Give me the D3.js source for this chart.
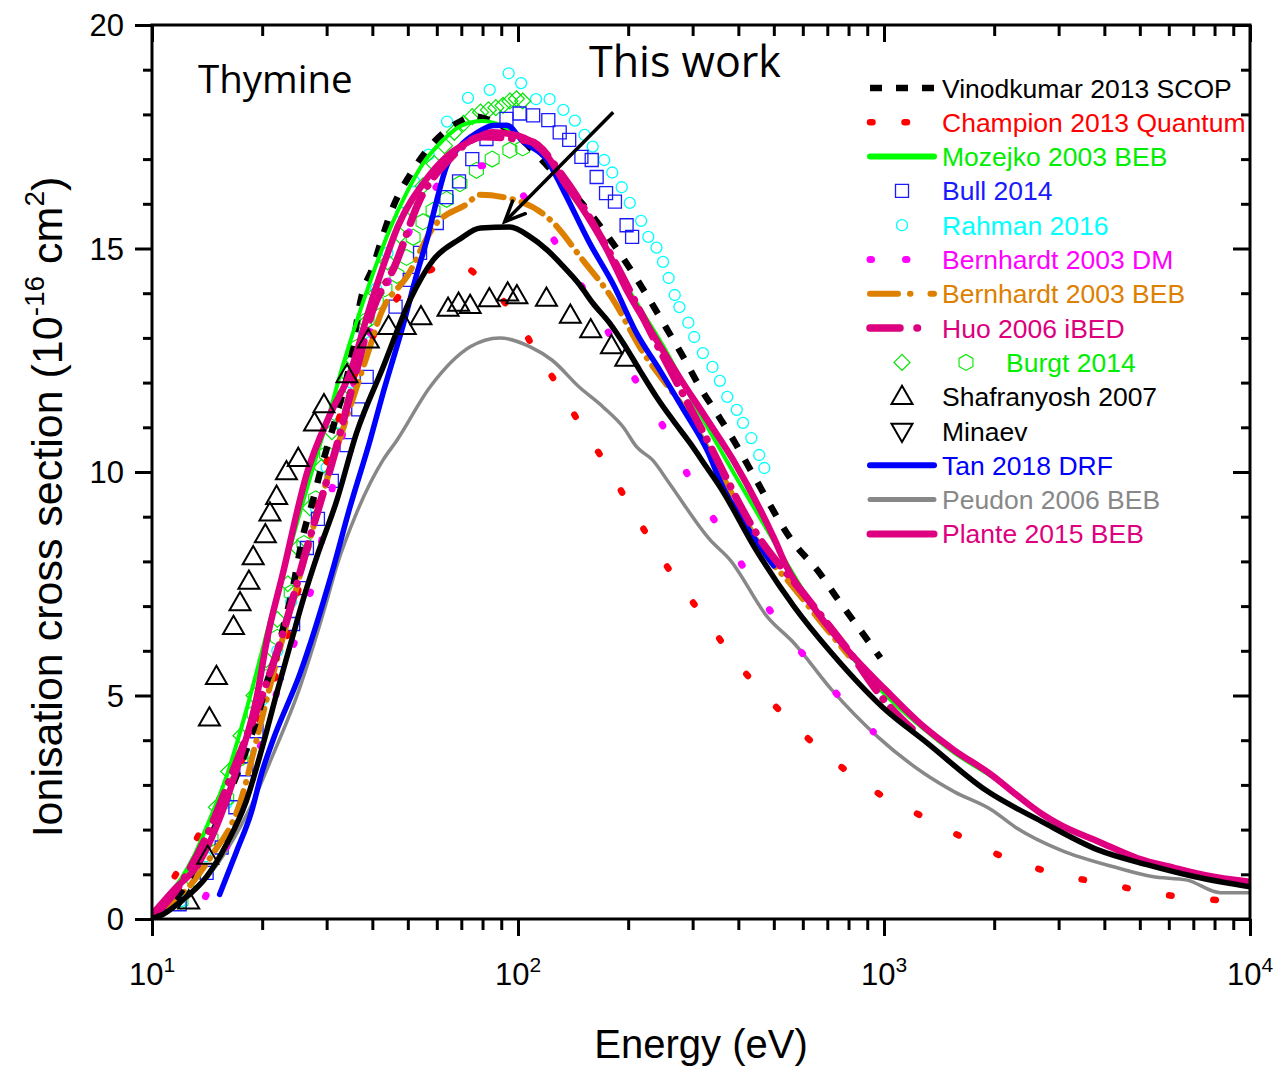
<!DOCTYPE html>
<html>
<head>
<meta charset="utf-8">
<script src="https://cdn.jsdelivr.net/npm/d3@7"></script>
<style>
  body { margin: 0; background: #fff; }
  svg { display: block; }
</style>
</head>
<body>
<svg id="chart" width="1277" height="1068"></svg>
<script>
// ---- Ionisation cross sections of thymine, [energy (eV), sigma (1e-16 cm^2)] ----
const thisWork = [[10,0.02],[10.5,0.07],[12,0.4],[14.1,0.95],[16,1.68],[18.1,2.64],[20.1,3.9],[22,5.1],[24,6.2],[26,7.2],[28.2,8.1],[32,9.37],[36.2,10.87],[42.8,12.35],[50.7,13.85],[58.6,14.74],[69,15.2],[79,15.46],[95,15.48],[108,15.26],[120,14.97],[133,14.6],[147,14.2],[160,13.78],[178,13.33],[194,12.88],[215,12.28],[239,11.68],[265,11.16],[295,10.65],[328,10.1],[357,9.66],[447,8.26],[568,6.99],[721,5.94],[988,4.75],[1316,3.93],[1890,2.89],[2700,2.18],[3860,1.54],[5260,1.21],[7030,0.95],[10000,0.72]];

const vinodkumar = [[10.3,0.05],[11,0.25],[12,0.6],[13,1.1],[14,1.6],[15.5,2.4],[17,3.2],[18.5,4.0],[19.7,4.7],[20.6,5.3],[21.9,5.9],[22.8,6.5],[24.1,7.3],[25.9,8.6],[27.6,9.4],[28.8,10.0],[32,11.3],[34.7,12.4],[37.3,13.9],[40.2,14.6],[42.4,15.2],[45.2,15.86],[51.7,16.76],[58.6,17.36],[68,17.8],[76,17.95],[85,17.85],[100,17.5],[125,16.7],[150,16.0],[175,15.3],[205,14.48],[227,13.9],[253,13.25],[283,12.57],[314,11.9],[352,11.27],[391,10.67],[437,9.97],[568,8.4],[658,7.8],[750,7.14],[855,6.5],[978,5.84]];

const champion = [[10,0.1],[11.3,0.83],[13,1.68],[14.8,2.5],[17.2,3.39],[20,4.6],[23,6.1],[26.5,8.2],[30.6,10.5],[34,11.7],[40,13.0],[48,14.0],[57,14.5],[68,14.65],[79,14.34],[99.6,13.4],[110,12.8],[128,11.95],[147,11.1],[171,10.27],[198,9.37],[250,8.0],[331,6.62],[397,5.73],[492,4.86],[688,3.71],[785,3.33],[1010,2.71],[1285,2.28],[1590,1.88],[1970,1.5],[3180,0.95],[3970,0.8],[4930,0.65],[6850,0.47],[7950,0.43],[9850,0.36]];

const mozejko = [[10,0.1],[11,0.5],[12,0.9],[13,1.4],[14,2.0],[16,3.2],[18,4.6],[20,6.0],[22,7.3],[24,8.4],[26,9.4],[28,10.3],[30,11.1],[33,12.3],[36,13.3],[40,14.4],[45,15.5],[50,16.3],[55,16.9],[62,17.4],[70,17.75],[80,17.85],[90,17.75],[100,17.55],[115,17.15],[130,16.55],[150,15.85],[175,14.95],[200,14.1],[250,12.8],[300,11.6],[400,9.8],[500,8.45],[640,7.0],[800,5.95],[1000,5.05],[1285,4.25],[1553,3.72],[2000,3.15],[2400,2.65],[2900,2.2],[3860,1.75],[5000,1.35],[7000,1.0],[10000,0.78]];

const bull2014 = [[11.9,0.33],[14.1,1.03],[15.5,1.6],[16.9,2.5],[18.1,3.35],[19.3,4.2],[21.9,5.5],[24.3,6.6],[25.6,7.4],[26.5,8.3],[28.4,8.95],[31,9.8],[34,10.6],[36.6,11.4],[38.6,12.13],[46.3,13.7],[50.6,14.3],[54,14.9],[60,15.57],[63.7,16.15],[69,16.5],[75,17.0],[82,17.45],[93,17.9],[101,18.02],[110,17.98],[121,17.87],[130,17.6],[138,17.43],[149,17.05],[159,16.98],[164,16.6],[174,16.24],[184,16.05],[198,15.52],[205,15.26]];

const rahman2016 = [[12,0.4],[14,1.4],[16,2.6],[18,3.7],[20,4.9],[22,6.0],[24,7.1],[26,8.2],[28,9.2],[30,10.1],[32.5,11.1],[35,12.0],[38,13.1],[41,14.1],[44,14.9],[48,15.8],[52,16.5],[57,17.1],[64,17.84],[73,18.37],[83.7,18.55],[94.3,18.92],[102,18.7],[112,18.34],[122,18.34],[133,18.1],[143,17.86],[152,17.54],[160,17.28],[172,16.98],[181,16.7],[192,16.37],[202,16.02],[217,15.62],[227,15.26],[239,15.02],[249,14.7],[258,14.34],[268,13.96],[276,13.69],[292,13.34],[303,13.02],[320,12.66],[340,12.35],[356,12.04],[373,11.68],[396,11.39],[412,11.1],[434,10.76],[456,10.38],[471,10.09]];

const bernhardtDM = [[14,0.5],[17,2.2],[20,4.0],[23,5.6],[26.5,7.0],[30,9.0],[34.7,11.6],[40.2,13.3],[48,15.0],[56.7,16.1],[68,16.8],[80,16.85],[90.6,16.64],[111,15.86],[134,14.8],[162,13.66],[202,12.28],[255,10.87],[303,9.66],[380,8.37],[470,7.1],[604,5.9],[740,5.05],[935,4.19]];

const bernhardtBEB = [[10.5,0.1],[11.6,0.4],[14.5,1.4],[17.4,2.6],[19.3,4.0],[21,5.2],[25.4,7.7],[30,9.8],[34,11.2],[39.4,12.8],[42,13.5],[50,14.4],[59,15.5],[72.6,16.0],[78.5,16.2],[91,16.15],[124,15.6],[150,14.75],[182,13.85],[215,12.8],[296,11.2],[357,10.0],[480,8.1],[555,7.5],[702,6.46],[800,5.9]];

const huo2006 = [[10.5,0.2],[12,0.8],[14,1.8],[17,3.5],[20,5.0],[22.8,6.4],[26.5,8.3],[32,10.6],[36.4,12.35],[40,13.6],[46,14.6],[54,16.1],[65,17.0],[80,17.5],[108,17.4],[133,16.6],[170,15.2],[244,12.73],[320,10.9],[450,8.6],[600,7.3],[800,6.0],[1000,4.9],[1250,4.1]];

const burgtDiamond = [[12,0.5],[13,1.1],[14,1.8],[15,2.5],[16.2,3.3],[17.5,4.1],[19,5.0],[20.5,5.8],[22,6.7],[23.5,7.5],[25,8.3],[27,9.2],[29,10.1],[31,10.9],[33,11.7],[35.5,12.5],[38,13.3],[41,14.0],[44,14.7],[47.5,15.3],[51,15.9],[55,16.4],[59,16.9],[63,17.3],[67,17.6],[71,17.8],[75,17.95],[79,18.05],[83,18.1],[87,18.15],[91,18.2],[95,18.3],[99,18.35],[103,18.3]];

const burgtHexagon = [[12,0.4],[13,0.9],[14.5,1.8],[16,2.7],[17.5,3.6],[19,4.6],[20.5,5.4],[22,6.3],[24,7.3],[26,8.4],[28,9.4],[30,10.4],[32,11.3],[34.5,12.2],[36.5,12.8],[38.7,13.4],[41,13.8],[43.3,14.1],[46.7,14.4],[49.6,14.8],[51.7,15.25],[55,15.6],[58.6,15.85],[63.8,16.1],[69.4,16.45],[77,16.75],[85,17.0],[95,17.2],[103,17.25]];

const shafranyosh = [[12.6,0.4],[14.2,1.4],[14.35,4.49],[15,5.42],[16.7,6.54],[17.4,7.07],[18.4,7.55],[18.9,8.1],[20.4,8.59],[21,9.08],[21.9,9.45],[23.3,10.0],[25.1,10.3],[27.8,11.09],[29.5,11.5],[34.1,12.17],[39,12.95],[44.3,13.25],[49.2,13.25],[54.3,13.47],[64.4,13.66],[68.8,13.77],[74,13.72],[83.5,13.87],[93.7,14.0],[99.3,13.94],[119.6,13.88],[139,13.5],[158,13.18],[180,12.82],[197,12.54]];

const minaev = [];

const tan2018 = [[15.3,0.55],[17,1.5],[18.7,2.4],[20,3.3],[21.4,4.0],[25.4,5.5],[31,7.74],[34.7,9.2],[39.4,10.7],[42.9,11.8],[48.6,13.3],[53,14.45],[56.4,15.2],[60,16.08],[63.7,16.83],[69.3,17.28],[77,17.58],[85.5,17.75],[93,17.76],[103,17.4],[120,16.98],[133,16.3],[157,15.12],[182,14.2],[211,13.1],[244,12.28],[283,11.4],[328,10.5],[363,9.66],[420,8.8],[480,8.1],[500,7.9]];

const peudon2006 = [[10,0.02],[12.2,0.4],[15,1.2],[18.5,2.47],[21.4,3.67],[25.4,5.2],[27,5.86],[30,7.1],[31.9,7.87],[36.2,9.08],[42.8,10.27],[46.6,10.7],[57.5,11.9],[74,12.8],[89,13.0],[108,12.8],[124,12.5],[147,11.9],[171,11.45],[194,11.0],[211,10.56],[233,10.27],[259,9.75],[335,8.48],[380,8.03],[480,6.76],[568,6.17],[721,5.12],[960,4.08],[1285,3.26],[1553,2.85],[1970,2.44],[2280,2.06],[3040,1.54],[4360,1.14],[5400,0.95],[6740,0.87],[8290,0.59],[10000,0.59]];

const plante2015 = [[10,0.1],[11.4,0.63],[13.5,1.28],[15.3,2.24],[17.4,3.59],[19.3,4.94],[20.6,6.24],[22.8,7.74],[26.5,9.97],[30.7,11.3],[34.7,12.2],[39.4,13.7],[42.8,14.6],[47,15.5],[55.6,16.5],[63.7,17.05],[74,17.4],[85,17.6],[97,17.55],[110,17.36],[122,17.0],[133,16.5],[147,16.0],[175,14.97],[198,14.07],[233,13.1],[277,12.1],[327,11.2],[387,10.27],[503,8.48],[542,7.88],[640,6.99],[794,6.02],[1012,5.12],[1285,4.3],[1553,3.78],[1970,3.22],[2300,2.78],[2700,2.35],[3040,2.1],[3860,1.73],[4930,1.36],[6240,1.14],[7540,0.98],[10000,0.83]];

// arrow pointing at this work's curve: [energy, sigma] of tail and tip
const arrowTail = [182, 18.05];
const arrowTip = [92, 15.6];

// axis ticks
const xMajorTicks = [10, 100, 1000, 10000];
const xMajorExponents = ["1", "2", "3", "4"];
const xMinorTicks = [1, 10, 100].flatMap(d => [2,3,4,5,6,7,8,9].map(k => d * k * 10));
const yMajorTicks = [0, 5, 10, 15, 20];
const yMinorTicks = d3.range(0, 21).filter(v => v % 5 !== 0);

// ---- drawing ----
const svg = d3.select("#chart");
const L = 152, R = 1250, T = 25, B = 919;
const x = d3.scaleLog().domain([10, 10000]).range([L, R]);
const y = d3.scaleLinear().domain([0, 20]).range([B, T]);
const AXIS_FONT = "'Liberation Sans', Arial, sans-serif";
const TITLE_FONT = "'Open Sans', 'Noto Sans', sans-serif";

svg.append("rect").attr("width", 1277).attr("height", 1068).attr("fill", "#fff");
svg.append("defs").append("clipPath").attr("id", "plotClip")
  .append("rect").attr("x", L).attr("y", T).attr("width", R - L).attr("height", B - T);

const plot = svg.append("g").attr("clip-path", "url(#plotClip)");
const line = d3.line().x(d => x(d[0])).y(d => y(d[1])).curve(d3.curveMonotoneX);

// marker shapes
const shapes = {
  square: s => `M${-s/2},${-s/2}h${s}v${s}h${-s}Z`,
  circle: s => `M${s/2},0A${s/2},${s/2},0,1,1,${-s/2},0A${s/2},${s/2},0,1,1,${s/2},0Z`,
  diamond: s => `M0,${-s/2}L${s/2},0L0,${s/2}L${-s/2},0Z`,
  hexagon: s => d3.range(6).map(i => {
      const a = Math.PI / 3 * i - Math.PI / 2;
      return (i ? "L" : "M") + (s/2 * Math.cos(a)).toFixed(2) + "," + (s/2 * Math.sin(a)).toFixed(2);
    }).join("") + "Z",
  triUp: s => { const h = s * 0.87; return `M0,${-h*0.6}L${s/2},${h*0.4}L${-s/2},${h*0.4}Z`; },
  triDown: s => { const h = s * 0.87; return `M0,${h*0.6}L${s/2},${-h*0.4}L${-s/2},${-h*0.4}Z`; }
};

const markerSeries = {
  rahman: { data: rahman2016, shape: "circle", size: 11, color: "#00ffff", sw: 1.3 },
  burgtD: { data: burgtDiamond, shape: "diamond", size: 16, color: "#00e600", sw: 1.2 },
  burgtH: { data: burgtHexagon, shape: "hexagon", size: 16, color: "#00e600", sw: 1.1 },
  bull: { data: bull2014, shape: "square", size: 13, color: "#1a1aff", sw: 1.3 },
  shaf: { data: shafranyosh, shape: "triUp", size: 21, color: "#000", sw: 2 },
  minaev: { data: minaev, shape: "triDown", size: 21, color: "#000", sw: 2 }
};

const lineSeries = {
  mozejko: { data: mozejko, color: "#00ff00", width: 4, dash: null, cap: "round" },
  vinod: { data: vinodkumar, color: "#000", width: 6.5, dash: "12,14", cap: "butt" },
  champion: { data: champion, color: "#ff0000", width: 6.5, dash: "2.5,42", cap: "round" },
  dm: { data: bernhardtDM, color: "#ff00ff", width: 7, dash: "1.5,52", cap: "round" },
  beb: { data: bernhardtBEB, color: "#dd8000", width: 6, dash: "24,9,0.5,9", cap: "round" },
  huo: { data: huo2006, color: "#dc007e", width: 7.5, dash: "30,11,0.5,11", cap: "round" },
  peudon: { data: peudon2006, color: "#888888", width: 3.5, dash: null, cap: "round" },
  tan: { data: tan2018, color: "#0000ff", width: 5.5, dash: null, cap: "round" },
  plante: { data: plante2015, color: "#de0080", width: 6.5, dash: null, cap: "round" },
  thisWork: { data: thisWork, color: "#000", width: 5.5, dash: null, cap: "round" }
};

function drawMarkers(g, m, pts) {
  g.selectAll(null).data(pts).join("path")
    .attr("transform", d => `translate(${x(d[0])},${y(d[1])})`)
    .attr("d", shapes[m.shape](m.size))
    .attr("fill", "none").attr("stroke", m.color).attr("stroke-width", m.sw);
}
function drawLine(g, s) {
  g.append("path").datum(s.data).attr("d", line)
    .attr("fill", "none").attr("stroke", s.color).attr("stroke-width", s.width)
    .attr("stroke-linecap", s.cap).attr("stroke-linejoin", "round")
    .attr("stroke-dasharray", s.dash);
}

drawMarkers(plot, markerSeries.rahman, rahman2016);
drawMarkers(plot, markerSeries.burgtH, burgtHexagon);
drawMarkers(plot, markerSeries.burgtD, burgtDiamond);
drawMarkers(plot, markerSeries.bull, bull2014);
["peudon", "champion", "dm", "beb", "vinod", "mozejko", "tan", "huo", "plante", "thisWork"]
  .forEach(k => drawLine(plot, lineSeries[k]));
drawMarkers(plot, markerSeries.shaf, shafranyosh);
drawMarkers(plot, markerSeries.minaev, minaev);

// arrow
{
  const x1 = x(arrowTail[0]), y1 = y(arrowTail[1]), x2 = x(arrowTip[0]), y2 = y(arrowTip[1]);
  const ang = Math.atan2(y2 - y1, x2 - x1);
  const len = 22, spread = 0.42;
  const a1 = [x2 - len * Math.cos(ang - spread), y2 - len * Math.sin(ang - spread)];
  const a2 = [x2 - len * Math.cos(ang + spread), y2 - len * Math.sin(ang + spread)];
  svg.append("path").attr("d", `M${x1},${y1}L${x2},${y2}`)
    .attr("stroke", "#000").attr("stroke-width", 3.5).attr("fill", "none");
  svg.append("path").attr("d", `M${a1}L${x2},${y2}L${a2}`)
    .attr("stroke", "#000").attr("stroke-width", 3.5).attr("fill", "none")
    .attr("stroke-linejoin", "miter").attr("stroke-linecap", "round");
}

// ---- axes ----
function styleAxis(g) {
  g.select(".domain").remove();
  g.selectAll(".tick line").attr("stroke", "#000").attr("stroke-width", 3);
  g.selectAll(".tick text").remove();
}
// bottom (outward)
svg.append("g").attr("transform", `translate(0,${B})`)
  .call(d3.axisBottom(x).tickValues(xMajorTicks).tickSize(17)).call(styleAxis);
svg.append("g").attr("transform", `translate(0,${B})`)
  .call(d3.axisBottom(x).tickValues(xMinorTicks).tickSize(11)).call(styleAxis);
// top (inward)
svg.append("g").attr("transform", `translate(0,${T})`)
  .call(d3.axisBottom(x).tickValues(xMajorTicks).tickSize(17)).call(styleAxis);
svg.append("g").attr("transform", `translate(0,${T})`)
  .call(d3.axisBottom(x).tickValues(xMinorTicks).tickSize(11)).call(styleAxis);
// left (outward)
svg.append("g").attr("transform", `translate(${L},0)`)
  .call(d3.axisLeft(y).tickValues(yMajorTicks).tickSize(17)).call(styleAxis);
svg.append("g").attr("transform", `translate(${L},0)`)
  .call(d3.axisLeft(y).tickValues(yMinorTicks).tickSize(9)).call(styleAxis);
// right (inward)
svg.append("g").attr("transform", `translate(${R},0)`)
  .call(d3.axisLeft(y).tickValues(yMajorTicks).tickSize(17)).call(styleAxis);
svg.append("g").attr("transform", `translate(${R},0)`)
  .call(d3.axisLeft(y).tickValues(yMinorTicks).tickSize(9)).call(styleAxis);

svg.append("rect").attr("x", L).attr("y", T).attr("width", R - L).attr("height", B - T)
  .attr("fill", "none").attr("stroke", "#000").attr("stroke-width", 3);

// tick labels
svg.append("g").selectAll("text").data(yMajorTicks).join("text")
  .attr("x", L - 28).attr("y", d => y(d)).attr("dy", "0.36em")
  .attr("text-anchor", "end").attr("font-family", AXIS_FONT).attr("font-size", 31)
  .text(d => d);

const xl = svg.append("g").selectAll("text").data(xMajorTicks).join("text")
  .attr("x", d => x(d)).attr("y", 985)
  .attr("text-anchor", "middle").attr("font-family", AXIS_FONT).attr("font-size", 31);
xl.append("tspan").text("10");
xl.append("tspan").attr("dy", -13).attr("font-size", 21).text((d, i) => xMajorExponents[i]);

// axis titles
svg.append("text").attr("x", 701).attr("y", 1058).attr("text-anchor", "middle")
  .attr("font-family", AXIS_FONT).attr("font-size", 40).text("Energy (eV)");

const yt = svg.append("text").attr("transform", "translate(62,507) rotate(-90)")
  .attr("text-anchor", "middle").attr("font-family", AXIS_FONT).attr("font-size", 43);
yt.append("tspan").text("Ionisation cross section (10");
yt.append("tspan").attr("dy", -18).attr("font-size", 28).text("-16");
yt.append("tspan").attr("dy", 18).text(" cm");
yt.append("tspan").attr("dy", -18).attr("font-size", 28).text("2");
yt.append("tspan").attr("dy", 18).text(")");

// annotations
svg.append("text").attr("x", 198).attr("y", 93).attr("font-family", TITLE_FONT)
  .attr("font-size", 38.5).attr("fill", "#000").text("Thymine");
svg.append("text").attr("x", 589).attr("y", 77).attr("font-family", TITLE_FONT)
  .attr("font-size", 43).attr("fill", "#000").text("This work");

// ---- legend ----
const legendItems = [
  { label: "Vinodkumar 2013 SCOP", color: "#000", line: lineSeries.vinod },
  { label: "Champion 2013 Quantum", color: "#ff0000", line: { ...lineSeries.champion, dash: "2.5,32" } },
  { label: "Mozejko 2003 BEB", color: "#00ee00", line: { ...lineSeries.mozejko, width: 6 } },
  { label: "Bull 2014", color: "#1a1aff", marker: markerSeries.bull },
  { label: "Rahman 2016", color: "#00ffff", marker: markerSeries.rahman },
  { label: "Bernhardt 2003 DM", color: "#ff00ff", line: { ...lineSeries.dm, dash: "1.5,34" } },
  { label: "Bernhardt 2003 BEB", color: "#dd8000", line: { ...lineSeries.beb, dash: "28,12,0.5,20" } },
  { label: "Huo 2006 iBED", color: "#dc007e", line: { ...lineSeries.huo, dash: "30,17,0.5,30" } },
  { label: "Burgt 2014", color: "#00ee00", marker: markerSeries.burgtD, marker2: markerSeries.burgtH },
  { label: "Shafranyosh 2007", color: "#000", marker: markerSeries.shaf },
  { label: "Minaev", color: "#000", marker: markerSeries.minaev },
  { label: "Tan 2018 DRF", color: "#0000ff", line: { ...lineSeries.tan, width: 6 } },
  { label: "Peudon 2006 BEB", color: "#888888", line: { ...lineSeries.peudon, width: 5 } },
  { label: "Plante 2015 BEB", color: "#de0080", line: { ...lineSeries.plante, width: 7 } }
];
const lg = svg.append("g");
legendItems.forEach((it, i) => {
  const cy = 88 + i * 34.3;
  const g = lg.append("g").attr("transform", `translate(0,${cy})`);
  if (it.line) {
    g.append("path").attr("d", "M870,0H934").attr("stroke", it.line.color)
      .attr("stroke-width", it.line.width).attr("stroke-linecap", it.line.cap)
      .attr("stroke-dasharray", it.line.dash).attr("fill", "none");
  }
  if (it.marker) {
    g.append("path").attr("transform", "translate(902,0)")
      .attr("d", shapes[it.marker.shape](it.marker.size))
      .attr("fill", "none").attr("stroke", it.marker.color).attr("stroke-width", it.marker.sw);
  }
  if (it.marker2) {
    g.append("path").attr("transform", "translate(966,0)")
      .attr("d", shapes[it.marker2.shape](it.marker2.size))
      .attr("fill", "none").attr("stroke", it.marker2.color).attr("stroke-width", it.marker2.sw);
  }
  g.append("text").attr("x", it.marker2 ? 1006 : 942).attr("y", 0).attr("dy", "0.36em")
    .attr("font-family", AXIS_FONT).attr("font-size", 26.5).attr("fill", it.color)
    .text(it.label);
});
</script>
</body>
</html>
